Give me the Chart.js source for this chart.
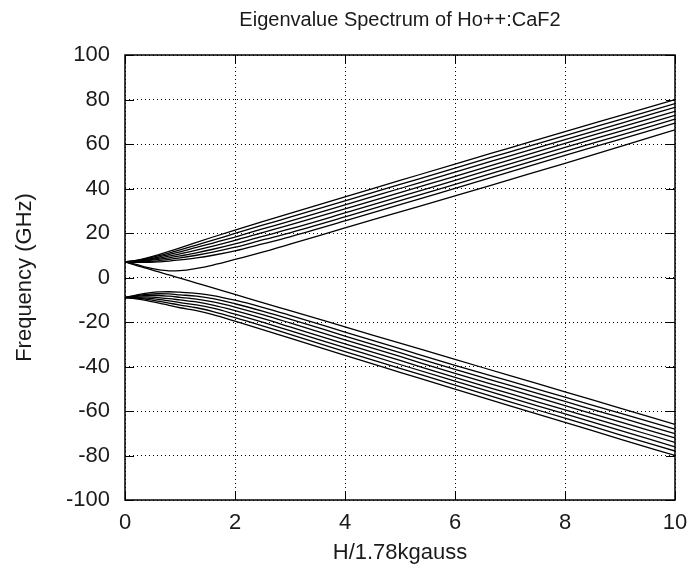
<!DOCTYPE html>
<html>
<head>
<meta charset="utf-8">
<script src="https://cdn.jsdelivr.net/npm/chart.js@4"></script>
<style>
  html, body { margin: 0; padding: 0; background: #fff; }
  #spectrum { display: block; }
</style>
</head>
<body>
<canvas id="spectrum" width="688" height="566"></canvas>
<script>
const fieldH = [0, 0.2, 0.4, 0.6, 0.8, 1, 1.3, 1.6, 2, 2.5, 3, 4, 5, 6, 7, 8, 9, 10];

// upper branch, top to bottom (GHz)
const up1 = [7, 7.7, 8.8, 10.2, 11.7, 13.3, 15.8, 18.2, 21.3, 25.1, 28.8, 36.2, 43.6, 51, 58.3, 65.6, 72.8, 80];
const up2 = [7, 7.6, 8.5, 9.7, 11, 12.4, 14.6, 16.8, 19.8, 23.5, 27.1, 34.4, 41.8, 49.2, 56.5, 63.8, 71, 78.2];
const up3 = [7, 7.4, 8.1, 9.1, 10.3, 11.5, 13.5, 15.5, 18.2, 21.8, 25.3, 32.6, 40, 47.4, 54.7, 62, 69.2, 76.5];
const up4 = [7, 7.3, 7.8, 8.6, 9.6, 10.6, 12.3, 14.1, 16.7, 20.2, 23.6, 30.8, 38.2, 45.5, 52.9, 60.3, 67.5, 74.7];
const up5 = [7, 7.1, 7.5, 8.1, 8.8, 9.7, 11.1, 12.7, 15.1, 18.5, 21.8, 29, 36.3, 43.7, 51.1, 58.5, 65.7, 72.9];
const up6 = [7, 7, 7.1, 7.5, 8.1, 8.8, 10, 11.4, 13.6, 16.9, 20.1, 27.2, 34.5, 41.9, 49.3, 56.7, 63.9, 71.2];
const up7 = [7, 6.8, 6.8, 7, 7.4, 7.9, 8.8, 10, 12, 15.1, 18.3, 25.4, 32.7, 40.1, 47.5, 54.9, 62.1, 69.4];
const up8 = [7, 5.9, 4.5, 3.5, 3, 3.1, 4.1, 5.6, 8.1, 11.4, 15, 22.3, 29.5, 36.7, 44, 51.3, 58.8, 66.4];

// level that starts with the upper branch and crosses down
const cross = [7, 5.5, 4.1, 2.6, 1.2, -0.3, -2.5, -4.7, -7.6, -11.3, -14.9, -22.2, -29.5, -36.8, -44.1, -51.4, -58.7, -66];

// lower branch, top to bottom (GHz)
const low1 = [-9, -7.9, -7, -6.5, -6.4, -6.6, -7.1, -8.1, -10.2, -13.4, -17, -24.5, -32, -39.5, -46.6, -53.8, -61, -68.2];
const low2 = [-9, -8.2, -7.6, -7.3, -7.4, -7.8, -8.4, -9.5, -11.8, -15.1, -18.7, -26.3, -33.8, -41.3, -48.5, -55.7, -62.9, -70.2];
const low3 = [-9, -8.5, -8.1, -8.1, -8.4, -8.9, -9.7, -11, -13.3, -16.7, -20.4, -28, -35.5, -43.1, -50.3, -57.6, -64.9, -72.1];
const low4 = [-9, -8.8, -8.7, -9, -9.5, -10.1, -11, -12.4, -14.9, -18.4, -22.2, -29.8, -37.3, -44.9, -52.2, -59.5, -66.8, -74.1];
const low5 = [-9, -9, -9.3, -9.8, -10.5, -11.3, -12.3, -13.8, -16.5, -20.1, -23.9, -31.5, -39.1, -46.6, -54, -61.3, -68.7, -76.1];
const low6 = [-9, -9.3, -9.8, -10.6, -11.5, -12.4, -13.6, -15.3, -18, -21.7, -25.6, -33.3, -40.8, -48.4, -55.9, -63.2, -70.7, -78];
const low7 = [-9, -9.6, -10.4, -11.4, -12.5, -13.6, -14.9, -16.7, -19.6, -23.4, -27.3, -35, -42.6, -50.2, -57.7, -65.1, -72.6, -80];

const allLevels = [up1, up2, up3, up4, up5, up6, up7, up8, cross, low1, low2, low3, low4, low5, low6, low7];

const fontFamily = "'Liberation Sans', Arial, Helvetica, sans-serif";
const textColor = "#1a1a1a";
const fontSize = 22;

// gnuplot style frame with inward ticks
const frameTicks = {
    id: "frameTicks",
    afterDraw(chart) {
        const { ctx, chartArea: a, scales } = chart;
        const len = 9;
        ctx.save();
        ctx.strokeStyle = "#000";
        ctx.lineWidth = 1;
        ctx.beginPath();
        for (let t of scales.x.ticks) {
            const px = Math.round(scales.x.getPixelForValue(t.value)) + 0.5;
            ctx.moveTo(px, a.bottom); ctx.lineTo(px, a.bottom - len);
            ctx.moveTo(px, a.top); ctx.lineTo(px, a.top + len);
        }
        for (let t of scales.y.ticks) {
            const py = Math.round(scales.y.getPixelForValue(t.value)) + 0.5;
            ctx.moveTo(a.left, py); ctx.lineTo(a.left + len, py);
            ctx.moveTo(a.right, py); ctx.lineTo(a.right - len, py);
        }
        ctx.stroke();
        ctx.lineWidth = 1.5;
        ctx.strokeRect(a.left, a.top, a.right - a.left, a.bottom - a.top);
        ctx.restore();
    }
};

const datasets = allLevels.map(ys => ({
    data: fieldH.map((x, i) => ({ x: x, y: ys[i] })),
    borderColor: "#000",
    borderWidth: 1.3,
    pointRadius: 0,
    fill: false,
    cubicInterpolationMode: "monotone"
}));

new Chart(document.querySelector("#spectrum"), {
    type: "line",
    data: { datasets: datasets },
    plugins: [frameTicks],
    options: {
        responsive: false,
        animation: false,
        layout: { padding: { left: 0, right: 13, top: 0, bottom: 0 } },
        plugins: {
            legend: { display: false },
            tooltip: { enabled: false },
            title: {
                display: true,
                fullSize: false,
                text: "Eigenvalue Spectrum of Ho++:CaF2",
                color: textColor,
                font: { family: fontFamily, size: 20, weight: "normal" },
                padding: { top: 8, bottom: 23 }
            }
        },
        scales: {
            x: {
                type: "linear",
                min: 0,
                max: 10,
                afterFit: scale => {
                    scale.height = 66;
                    scale.paddingLeft = 0;
                    scale.paddingRight = 0;
                },
                ticks: {
                    stepSize: 2,
                    color: textColor,
                    padding: 10,
                    font: { family: fontFamily, size: fontSize }
                },
                grid: { color: "#000", lineWidth: 1, drawTicks: false },
                border: { display: false, dash: [1, 3] },
                title: {
                    display: true,
                    text: "H/1.78kgauss",
                    color: textColor,
                    font: { family: fontFamily, size: fontSize },
                    padding: { top: 2, bottom: 0 }
                }
            },
            y: {
                min: -100,
                max: 100,
                afterFit: scale => {
                    scale.width = 125;
                    scale.paddingTop = 0;
                    scale.paddingBottom = 0;
                },
                ticks: {
                    stepSize: 20,
                    color: textColor,
                    padding: 15,
                    font: { family: fontFamily, size: fontSize }
                },
                grid: { color: "#000", lineWidth: 1, drawTicks: false },
                border: { display: false, dash: [1, 3] },
                title: {
                    display: true,
                    text: "Frequency (GHz)",
                    color: textColor,
                    font: { family: fontFamily, size: fontSize },
                    padding: { top: 12, bottom: 2 }
                }
            }
        }
    }
});
</script>
</body>
</html>
